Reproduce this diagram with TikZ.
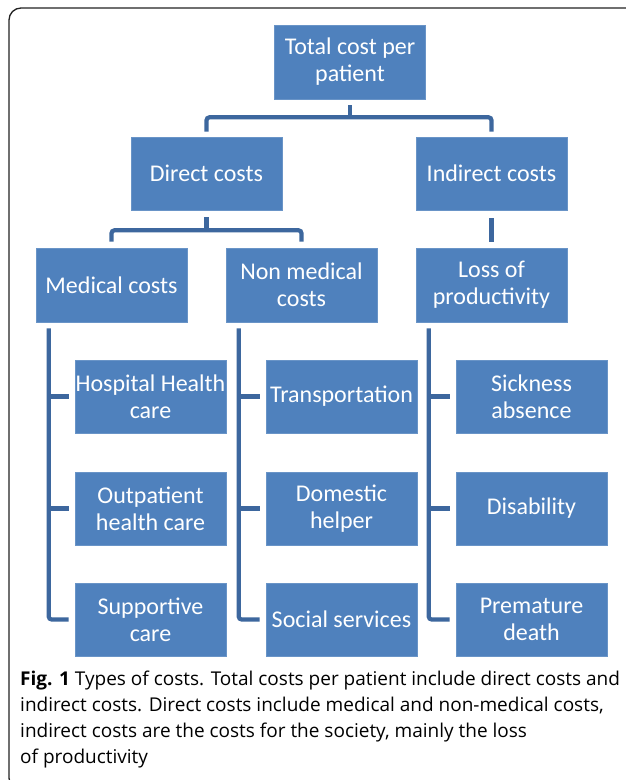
\documentclass[tikz,border=0pt]{standalone}
\usepackage{fontspec}
\setmainfont{Carlito}
\newfontfamily\capfont{Open Sans}
\definecolor{boxblue}{HTML}{4F81BD}
\definecolor{lineblue}{HTML}{3D679E}
\definecolor{framegray}{HTML}{222222}
\begin{document}
\begin{tikzpicture}[x=1pt,y=-1pt,
  cbox/.style={fill=boxblue, draw=boxblue!85!white, line width=0.6pt, minimum width=151pt, minimum height=73pt,
    inner sep=0.5pt, text=white, align=center, font=\fontsize{24}{27}\selectfont},
  conn/.style={draw=lineblue, line width=4.2pt, rounded corners=3pt}]
\useasboundingbox (0,0) rectangle (625,780);
\fill[white] (0,0) rectangle (625,780);
\draw[framegray, line width=1.3pt, rounded corners=12pt] (9,8) rectangle (650,790);

\node[cbox, minimum height=74pt] (total) at (350,62) {Total cost per\\patient};
\node[cbox] (direct) at (206.5,173.5) {Direct costs};
\node[cbox] (indirect) at (491.5,173.5) {Indirect costs};
\node[cbox, minimum height=74pt] (medical) at (111.5,285) {Medical costs};
\node[cbox, minimum height=74pt] (nonmed) at (301.5,285) {Non medical\\costs};
\node[cbox, minimum height=74pt] (loss) at (491.5,285) {Loss of\\productivity};

\node[cbox] (hosp) at (150.5,396.5) {Hospital Health\\care};
\node[cbox] (outp) at (150.5,508.5) {Outpatient\\health care};
\node[cbox] (supp) at (150.5,619.5) {Supportive\\care};
\node[cbox] (trans) at (341.5,396.5) {Transportation};
\node[cbox] (dom) at (341.5,508.5) {Domestic\\helper};
\node[cbox] (soc) at (341.5,619.5) {Social services};
\node[cbox] (sick) at (531.5,396.5) {Sickness\\absence};
\node[cbox] (dis) at (531.5,508.5) {Disability};
\node[cbox] (prem) at (531.5,619.5) {Premature\\death};

% level 1 bracket
\coordinate (tA) at ([yshift=-6pt]total.south);
\coordinate (tB) at ([yshift=-18pt]total.south);
\draw[conn] (tA) -- (tB);
\draw[conn] ([yshift=5pt]direct.north) |- (tB) -| ([yshift=5pt]indirect.north);
% level 2 bracket
\coordinate (dA) at ([yshift=-7pt]direct.south);
\coordinate (dB) at ([yshift=-20pt]direct.south);
\draw[conn] (dA) -- (dB);
\draw[conn] ([yshift=6pt]medical.north) |- (dB) -| ([yshift=6pt]nonmed.north);
\draw[conn] ([yshift=-8pt]indirect.south) -- ([yshift=6pt]loss.north);

% column spines
\foreach \hd/\ra/\rb/\rc in {medical/hosp/outp/supp, nonmed/trans/dom/soc, loss/sick/dis/prem}{
  \coordinate (s) at ([xshift=13pt,yshift=-6pt]\hd.south west);
  \draw[conn] (s) |- ([xshift=-6pt]\rc.west);
  \draw[conn] (s |- \ra.west) -- ([xshift=-6pt]\ra.west);
  \draw[conn] (s |- \rb.west) -- ([xshift=-6pt]\rb.west);
}

\node[anchor=north west, align=left, inner sep=0pt, font=\capfont\fontsize{19}{25.8}\selectfont, text=black] (cap) at (20,671)
{\textbf{Fig. 1} Types of costs. Total costs per patient include direct costs and\\
indirect costs. Direct costs include medical and non-medical costs,\\
indirect costs are the costs for the society, mainly the loss\\
of productivity};
\end{tikzpicture}
\end{document}
